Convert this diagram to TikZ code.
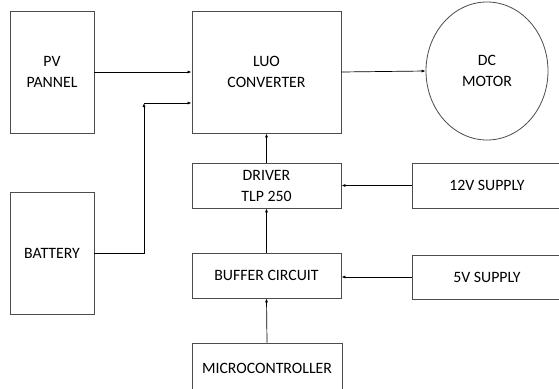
\documentclass[tikz,border=0pt]{standalone}
\usepackage{fontspec}
\setmainfont{Carlito}
\usetikzlibrary{arrows.meta,shapes.geometric}
\begin{document}
\begin{tikzpicture}[x=1pt,y=-1pt,
  blk/.style={draw=black!70,line width=0.8pt,inner sep=0pt,align=center,font=\fontsize{15.8}{21}\selectfont},
  conn/.style={line width=0.7pt,-{Latex[length=4pt,width=3pt]}}]
\useasboundingbox (0,0) rectangle (559,388);
\clip (0,0) rectangle (559,388);
\fill[white] (0,0) rectangle (559,388);
\node[blk,minimum width=84pt,minimum height=122pt] (pv) at (52,72) {PV\\PANNEL};
\node[blk,minimum width=149pt,minimum height=122pt] (luo) at (266.5,72) {LUO\\CONVERTER};
\node[blk,ellipse,minimum width=122pt,minimum height=138pt] (motor) at (487,71) {DC\\MOTOR};
\node[blk,minimum width=84pt,minimum height=122pt] (bat) at (52,253) {BATTERY};
\node[blk,minimum width=149pt,minimum height=45pt] (drv) at (266.5,185.5) {DRIVER\\TLP 250};
\node[blk,minimum width=150pt,minimum height=45pt] (s12) at (487,185.5) {12V SUPPLY};
\node[blk,minimum width=149pt,minimum height=45pt] (buf) at (266.5,275.5) {BUFFER CIRCUIT};
\node[blk,minimum width=150pt,minimum height=44pt] (s5) at (487,277) {5V SUPPLY};
\node[blk,minimum width=150pt,minimum height=50pt] (mcu) at (267,368) {MICROCONTROLLER};
\coordinate (c) at (144,103);
\draw[conn] (pv.east) -- (luo.west);
\draw[conn] (luo.east) -- (motor.west);
\draw[conn] (bat.east) -| (c);
\draw[conn] (c) -- (luo.west |- c);
\draw[conn] (drv.north) -- (luo.south);
\draw[conn] (buf.north) -- (drv.south);
\draw[conn] (mcu.north) -- (buf.south);
\draw[conn] (s12.west) -- (drv.east);
\draw[conn] (s5.west) -- (buf.east |- s5.west);
\end{tikzpicture}
\end{document}
